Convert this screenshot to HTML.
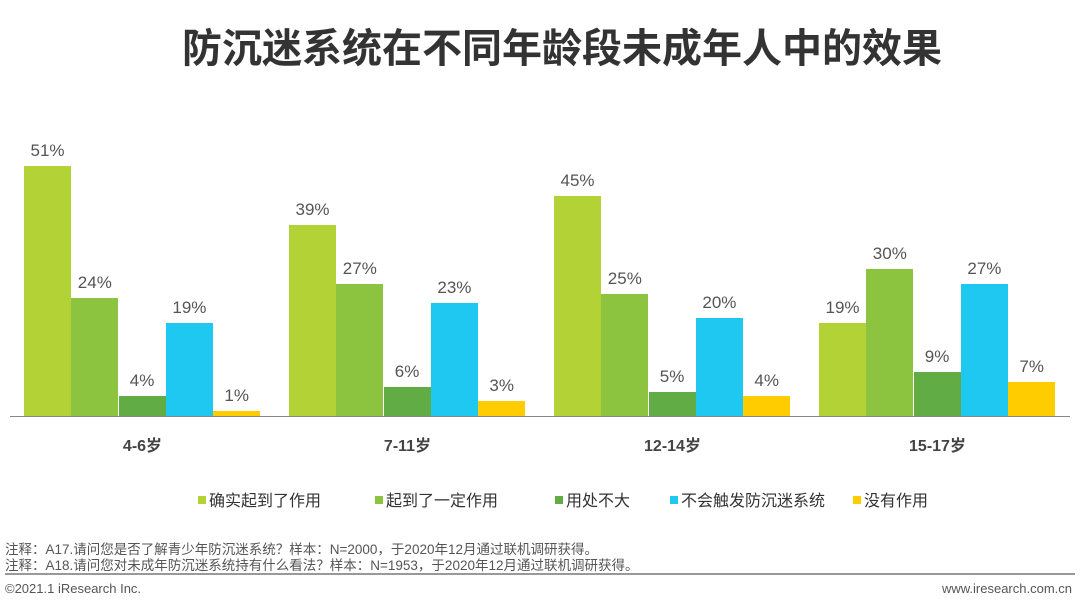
<!DOCTYPE html>
<html><head><meta charset="utf-8"><style>
body{margin:0;width:1080px;height:608px;background:#fff;font-family:"Liberation Sans","Noto Sans CJK SC",sans-serif;position:relative;overflow:hidden}
.t{position:absolute;white-space:nowrap}
.b{position:absolute;bottom:192px;width:47px}
.v{position:absolute;width:47px;text-align:center;font-size:17px;color:#555}
.lg{position:absolute;top:487px;font-size:16px;color:#333;white-space:nowrap}
.lg i{display:inline-block;width:8px;height:8px;margin-right:3px;vertical-align:2px}
</style></head><body>
<div class="t" style="left:0;width:1124px;text-align:center;top:16px;font-size:40px;font-weight:bold;color:#333">防沉迷系统在不同年龄段未成年人中的效果</div>
<div style="position:absolute;left:10px;width:1060px;top:416px;height:1px;background:#888"></div>
<div id="c"></div>
<script>
var d=[[51,24,4,19,1],[39,27,6,23,3],[45,25,5,20,4],[19,30,9,27,7]];
var col=["#b3d235","#8cc33f","#62ac45","#1fc8f0","#ffcc00"];
var cats=["4-6岁","7-11岁","12-14岁","15-17岁"];
var h="";
d.forEach(function(g,i){var x0=24+i*265;g.forEach(function(v,j){var x=x0+j*47.3,hh=v*4.9;
h+='<div class="b" style="left:'+x+'px;height:'+hh+'px;background:'+col[j]+'"></div>';
h+='<div class="v" style="left:'+x+'px;top:'+(416-hh-25)+'px">'+v+'%</div>';});
h+='<div class="t" style="left:'+(x0)+'px;width:237px;text-align:center;top:432px;font-size:16px;font-weight:bold;color:#444">'+cats[i]+'</div>';});
document.getElementById("c").innerHTML=h;
</script>
<div class="lg" style="left:198px"><i style="background:#b3d235"></i>确实起到了作用</div>
<div class="lg" style="left:375px"><i style="background:#8cc33f"></i>起到了一定作用</div>
<div class="lg" style="left:555px"><i style="background:#62ac45"></i>用处不大</div>
<div class="lg" style="left:670px"><i style="background:#1fc8f0"></i>不会触发防沉迷系统</div>
<div class="lg" style="left:853px"><i style="background:#ffcc00"></i>没有作用</div>
<div class="t" style="left:5px;top:538px;font-size:13.5px;color:#555">注释：A17.请问您是否了解青少年防沉迷系统？样本：N=2000，于2020年12月通过联机调研获得。</div>
<div class="t" style="left:5px;top:554px;font-size:13.5px;color:#555">注释：A18.请问您对未成年防沉迷系统持有什么看法？样本：N=1953，于2020年12月通过联机调研获得。</div>
<div style="position:absolute;left:5px;width:1070px;top:573px;height:2px;background:#999"></div>
<div class="t" style="left:5px;top:581px;font-size:13px;color:#555">©2021.1 iResearch Inc.</div>
<div class="t" style="right:8px;top:581px;font-size:13px;color:#555">www.iresearch.com.cn</div>
</body></html>
